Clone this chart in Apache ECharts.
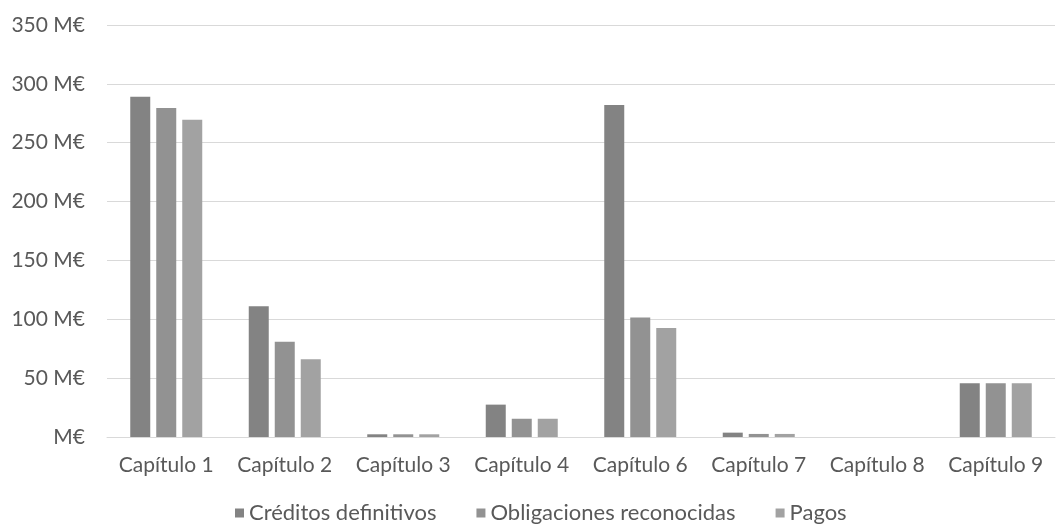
<!DOCTYPE html>
<html><head><meta charset="utf-8">
<script src="https://cdn.jsdelivr.net/npm/echarts@6/dist/echarts.min.js"></script>
<style>html,body{margin:0;padding:0;background:#fff}#c{width:1061px;height:524px}</style>
</head><body><div id="c"></div>
<script>
const categories = ['Capítulo 1','Capítulo 2','Capítulo 3','Capítulo 4','Capítulo 6','Capítulo 7','Capítulo 8','Capítulo 9'];
const creditos = [289, 111, 2.3, 27.5, 282, 3.7, 0, 45.6];
const obligaciones = [279.5, 81, 2.3, 15.5, 101.5, 2.6, 0, 45.6];
const pagos = [269.5, 66, 2.3, 15.5, 92.5, 2.6, 0, 45.6];
const seriesNames = ['Créditos definitivos','Obligaciones reconocidas','Pagos'];
const colors = ['#838383','#929292','#a2a2a2'];
const font = 'Lato, "Open Sans", sans-serif';
const chart = echarts.init(document.getElementById('c'));
const mk = (name, data, i) => ({name, type:'bar', data, barWidth:20, barGap:'30%',
  itemStyle:{color:colors[i]}});
chart.setOption({
  animation:false,
  textStyle:{fontFamily:font},
  grid:{left:107,right:6,top:25,bottom:87,containLabel:false},
  legend:{top:497,left:230,itemWidth:9,itemHeight:9,itemGap:40,icon:'rect',
    textStyle:{color:'#595959',fontSize:22,fontFamily:font},
    data:seriesNames},
  xAxis:{type:'category',data:categories,
    axisLine:{lineStyle:{color:'#d9d9d9'}},axisTick:{show:false},
    axisLabel:{color:'#595959',fontSize:21,margin:18,interval:0,fontFamily:font}},
  yAxis:{type:'value',min:0,max:350,interval:50,
    axisLine:{show:false},axisTick:{show:false},
    splitLine:{lineStyle:{color:'#d9d9d9'}},
    axisLabel:{color:'#595959',fontSize:21,margin:22,fontFamily:font,
      formatter:v=> v===0 ? 'M€' : v+' M€'}},
  series:[mk(seriesNames[0],creditos,0),mk(seriesNames[1],obligaciones,1),mk(seriesNames[2],pagos,2)]
});
</script></body></html>
